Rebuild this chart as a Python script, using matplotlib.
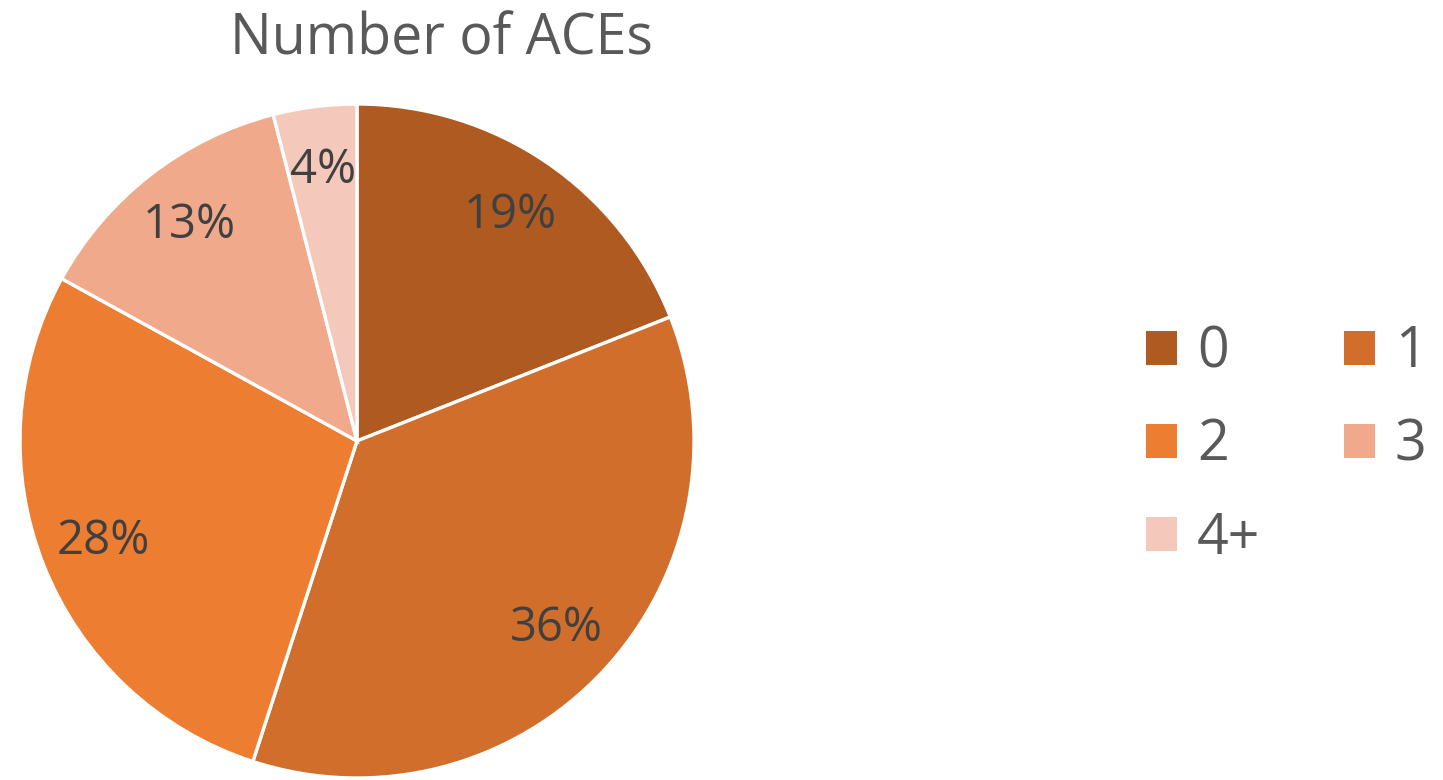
import matplotlib.pyplot as plt
from matplotlib.patches import Patch

categories = ["0", "1", "2", "3", "4+"]
shares = [19, 36, 28, 13, 4]
colors = ["#AE5A21", "#D26E2B", "#ED7D31", "#F0A98B", "#F4C8BA"]

plt.rcParams["font.family"] = ["Open Sans", "DejaVu Sans"]

fig = plt.figure(figsize=(14.43, 7.8), dpi=100)
ax = fig.add_axes([20 / 1443, 2 / 780, 674 / 1443, 674 / 780])

wedges, texts, autotexts = ax.pie(
    shares,
    colors=colors,
    startangle=90,
    counterclock=False,
    autopct="%d%%",
    pctdistance=0.81,
    wedgeprops={"edgecolor": "white", "linewidth": 2.4},
    textprops={"fontsize": 34, "color": "#404040"},
)
ax.set_xlim(-1, 1)
ax.set_ylim(-1, 1)
ax.set_aspect("equal")

fig.text(441 / 1443, 1 - 40 / 780, "Number of ACEs", ha="center", va="center",
         fontsize=40, color="#595959")

# row-major legend: matplotlib fills columns first, so reorder
handles = [Patch(facecolor=c) for c in colors]
order = [0, 2, 4, 1, 3]
leg = fig.legend(
    [handles[i] for i in order],
    [categories[i] for i in order],
    ncol=2,
    loc="center left",
    bbox_to_anchor=(1118 / 1443, 1 - 446 / 780),
    frameon=False,
    fontsize=40,
    labelcolor="#595959",
    handlelength=0.56,
    handleheight=0.56,
    handletextpad=0.36,
    labelspacing=0.65,
    columnspacing=1.5,
    borderpad=0,
)

fig.savefig("out.png", dpi=100)
